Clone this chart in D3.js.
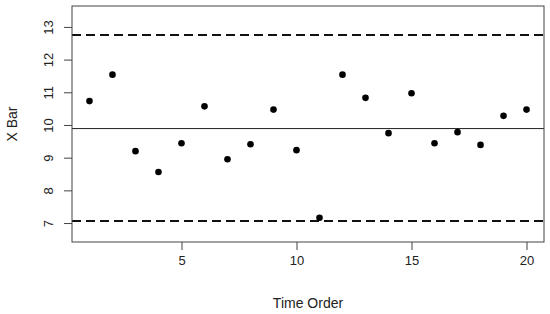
<!DOCTYPE html>
<html lang="en">
<head>
	<meta charset="utf-8">
	<title>X Bar chart</title>
	<script type="text/javascript" src="https://cdn.jsdelivr.net/npm/d3@7"></script>
	<style type="text/css">
		body { margin: 0; background: #fff; }
		.axis path, .axis line { stroke: #444; }
		.axis text {
			font-family: "Liberation Sans", Arial, sans-serif;
			font-size: 13px;
			fill: #222;
		}
		.title {
			font-family: "Liberation Sans", Arial, sans-serif;
			font-size: 14px;
			fill: #222;
		}
	</style>
</head>
<body>
	<script type="text/javascript">
		// data
		var timeOrder = d3.range(1, 21);
		var xBar = [10.73, 11.54, 9.20, 8.56, 9.44, 10.57, 8.95, 9.41, 10.47, 9.23,
			7.16, 11.54, 10.83, 9.75, 10.97, 9.44, 9.78, 9.39, 10.28, 10.47];
		var centerLine = 9.89;
		var ucl = 12.75;
		var lcl = 7.06;
		var xTicks = [5, 10, 15, 20];
		var yTicks = [7, 8, 9, 10, 11, 12, 13];

		var w = 550, h = 314;
		var plotLeft = 72, plotRight = 544, plotTop = 6, plotBottom = 242;

		var xScale = d3.scaleLinear().domain([0.24, 20.76]).range([plotLeft, plotRight]);
		var yScale = d3.scaleLinear().domain([6.42, 13.64]).range([plotBottom, plotTop]);

		var svg = d3.select("body").append("svg")
			.attr("width", w)
			.attr("height", h);

		// control lines
		svg.append("line")
			.attr("x1", plotLeft).attr("x2", plotRight)
			.attr("y1", yScale(centerLine)).attr("y2", yScale(centerLine))
			.attr("stroke", "#222").attr("stroke-width", 1);

		svg.selectAll("line.limit")
			.data([ucl, lcl])
			.enter()
			.append("line")
			.attr("class", "limit")
			.attr("x1", plotLeft).attr("x2", plotRight)
			.attr("y1", function (d) { return yScale(d); })
			.attr("y2", function (d) { return yScale(d); })
			.attr("stroke", "#111")
			.attr("stroke-width", 2)
			.attr("stroke-dasharray", "9,5");

		// points
		svg.selectAll("circle")
			.data(xBar)
			.enter()
			.append("circle")
			.attr("cx", function (d, i) { return xScale(timeOrder[i]); })
			.attr("cy", function (d) { return yScale(d); })
			.attr("r", 3.3)
			.attr("fill", "#000");

		// box
		svg.append("rect")
			.attr("x", plotLeft).attr("y", plotTop)
			.attr("width", plotRight - plotLeft).attr("height", plotBottom - plotTop)
			.attr("fill", "none")
			.attr("stroke", "#444");

		// axes
		var xAxis = d3.axisBottom(xScale).tickValues(xTicks).tickSize(8).tickPadding(6).tickSizeOuter(0);
		svg.append("g")
			.attr("class", "axis")
			.attr("transform", "translate(0," + plotBottom + ")")
			.call(xAxis)
			.select(".domain").remove();

		var yAxis = d3.axisLeft(yScale).tickValues(yTicks).tickSize(8).tickPadding(6).tickSizeOuter(0);
		var gy = svg.append("g")
			.attr("class", "axis")
			.attr("transform", "translate(" + plotLeft + ",0)")
			.call(yAxis);
		gy.select(".domain").remove();
		gy.selectAll(".tick text")
			.attr("text-anchor", "middle")
			.attr("x", 0)
			.attr("transform", "translate(-24,0) rotate(-90)")
			.attr("dy", "0.35em");

		// axis titles
		svg.append("text")
			.attr("class", "title")
			.attr("x", (plotLeft + plotRight) / 2)
			.attr("y", 308)
			.attr("text-anchor", "middle")
			.text("Time Order");

		svg.append("text")
			.attr("class", "title")
			.attr("transform", "translate(17," + (plotTop + plotBottom) / 2 + ") rotate(-90)")
			.attr("text-anchor", "middle")
			.text("X Bar");
	</script>
</body>
</html>
